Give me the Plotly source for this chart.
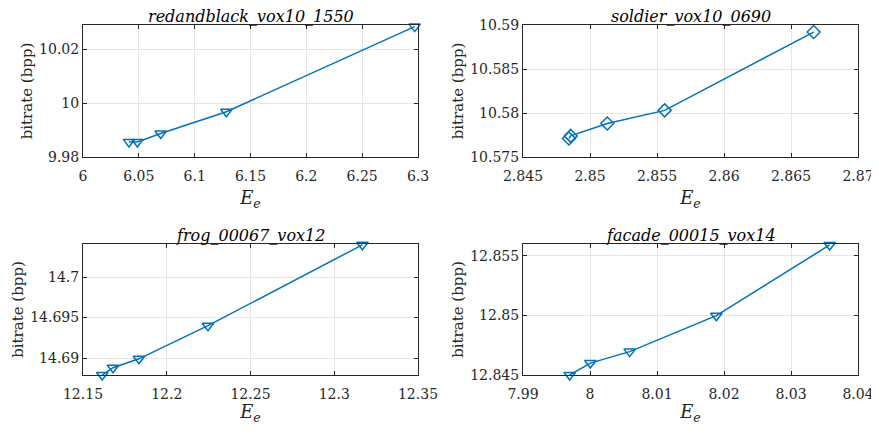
import plotly.graph_objects as go
from plotly.subplots import make_subplots

titles = ["redandblack_vox10_1550", "soldier_vox10_0690", "frog_00067_vox12", "facade_00015_vox14"]

rb_x = [6.0412, 6.0487, 6.0696, 6.1284, 6.2970]
rb_y = [9.9856, 9.9856, 9.9887, 9.9968, 10.0284]

so_x = [2.84843, 2.84856, 2.85129, 2.85557, 2.86669]
so_y = [10.5771, 10.5774, 10.5788, 10.5803, 10.5892]

fr_x = [12.1615, 12.1679, 12.1834, 12.2246, 12.3168]
fr_y = [14.6879, 14.6888, 14.6899, 14.6940, 14.7040]

fa_x = [7.99697, 8.00005, 8.00592, 8.01886, 8.03577]
fa_y = [12.8450, 12.8460, 12.84696, 12.84997, 12.8559]

series = [(rb_x, rb_y, "triangle-down-open"),
          (so_x, so_y, "diamond-open"),
          (fr_x, fr_y, "triangle-down-open"),
          (fa_x, fa_y, "triangle-down-open")]

x_ranges = [[6, 6.3], [2.845, 2.87], [12.15, 12.35], [7.99, 8.04]]
x_ticks = [[6, 6.05, 6.1, 6.15, 6.2, 6.25, 6.3],
           [2.845, 2.85, 2.855, 2.86, 2.865, 2.87],
           [12.15, 12.2, 12.25, 12.3, 12.35],
           [7.99, 8, 8.01, 8.02, 8.03, 8.04]]
x_labels = [["6", "6.05", "6.1", "6.15", "6.2", "6.25", "6.3"],
            ["2.845", "2.85", "2.855", "2.86", "2.865", "2.87"],
            ["12.15", "12.2", "12.25", "12.3", "12.35"],
            ["7.99", "8", "8.01", "8.02", "8.03", "8.04"]]
y_ranges = [[9.98, 10.029], [10.575, 10.59], [14.6879, 14.7041], [12.845, 12.85598]]
y_ticks = [[9.98, 10, 10.02], [10.575, 10.58, 10.585, 10.59],
           [14.69, 14.695, 14.7], [12.845, 12.85, 12.855]]
y_labels = [["9.98", "10", "10.02"], ["10.575", "10.58", "10.585", "10.59"],
            ["14.69", "14.695", "14.7"], ["12.845", "12.85", "12.855"]]

fig = make_subplots(rows=2, cols=2)

color = "#0072BD"
font = "DejaVu Serif"
axcol = "#262626"

# page body has an 8px margin; figure is sized to fit the 879x433 window
W, H, OFF = 869, 417, 8
xdom = [[(83-OFF)/W, (418-OFF)/W], [(523-OFF)/W, (858-OFF)/W]]
ydom = [[1-(157-OFF)/H, 1-(25-OFF)/H], [1-(375-OFF)/H, 1-(244-OFF)/H]]

for i, (xs, ys, sym) in enumerate(series):
    r, c = i // 2 + 1, i % 2 + 1
    fig.add_trace(go.Scatter(x=xs, y=ys, mode="lines+markers",
                             line=dict(color=color, width=1.5),
                             marker=dict(symbol=sym, size=10, color=color,
                                         line=dict(color=color, width=1.5)),
                             cliponaxis=False, showlegend=False), row=r, col=c)
    xr = x_ranges[i]
    span = xr[1] - xr[0]
    fig.update_xaxes(range=[xr[0] - span * 1e-6, xr[1] + span * 1e-6],
                     tickvals=x_ticks[i], ticktext=x_labels[i],
                     domain=xdom[c-1], row=r, col=c,
                     title=dict(text="<i>E</i><sub><i>e</i></sub>", standoff=8,
                                font=dict(size=18, family=font, color=axcol)))
    yr = y_ranges[i]
    yspan = yr[1] - yr[0]
    fig.update_yaxes(range=[yr[0] - yspan * 1e-6, yr[1] + yspan * 1e-6],
                     tickvals=y_ticks[i], ticktext=y_labels[i],
                     domain=ydom[r-1], row=r, col=c,
                     title=dict(text="bitrate (bpp)", standoff=2,
                                font=dict(size=15, family=font, color=axcol)))
    xd = xdom[c-1]
    yd = ydom[r-1]
    fig.add_annotation(text="<i>" + titles[i] + "</i>", xref="paper", yref="paper",
                       x=(xd[0]+xd[1])/2, y=yd[1], yanchor="bottom", xanchor="center",
                       showarrow=False, yshift=-2, borderpad=0,
                       font=dict(size=16, family=font, color="black"))

common = dict(showline=True, linecolor=axcol, linewidth=1, mirror="ticks",
              ticks="inside", ticklen=4, tickcolor=axcol, automargin=False,
              ticklabeloverflow="allow",
              showgrid=True, gridcolor="#e6e6e6", gridwidth=1, zeroline=False,
              tickfont=dict(size=14, family=font, color=axcol))
fig.update_xaxes(ticklabelstandoff=6, **common)
fig.update_yaxes(**common)

fig.update_layout(width=W, height=H, margin=dict(l=0, r=0, t=0, b=0),
                  plot_bgcolor="white", paper_bgcolor="white",
                  font=dict(family=font))

fig.write_html("out.html")
